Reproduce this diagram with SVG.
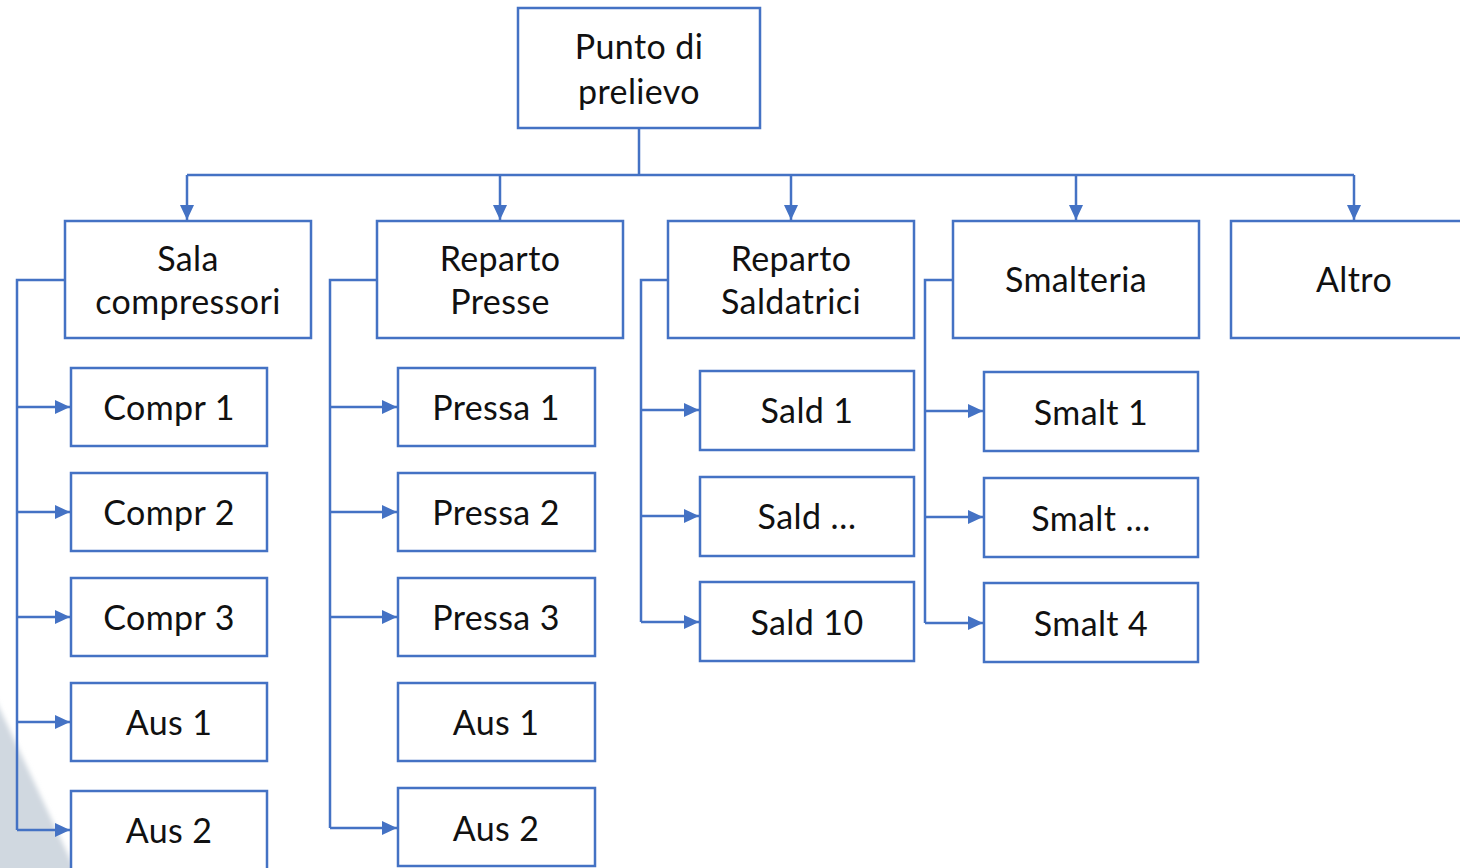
<svg xmlns="http://www.w3.org/2000/svg" width="1460" height="868" viewBox="0 0 1460 868">
  <style>
    .box { fill: #ffffff; stroke: #4472C4; stroke-width: 2.5; }
    .lbl { font-family: Lato, "Liberation Sans", sans-serif; font-size: 34px; letter-spacing: 0.4px; fill: #111111; text-anchor: middle; }
    .wire { fill: none; stroke: #4472C4; stroke-width: 2.5; }
    .arr { marker-end: url(#head); }
  </style>
  <defs>
    <marker id="head" markerUnits="userSpaceOnUse" markerWidth="16" markerHeight="16" viewBox="0 0 16 16" refX="15" refY="8" orient="auto">
      <path d="M0,1 L15,8 L0,15 Z" fill="#4472C4"/>
    </marker>
    <filter id="soft" x="-20%" y="-20%" width="140%" height="140%">
      <feGaussianBlur stdDeviation="2.5"/>
    </filter>
  </defs>

  <rect width="1460" height="868" fill="#ffffff"/>
  <!-- grey corner wedge -->
  <polygon points="-10,688 80,880 -10,880" fill="#d0d8e0" filter="url(#soft)"/>

  <!-- connectors -->
  <g id="connectors">
    <path class="wire" d="M639,128 V175 M187,175 H1354"/>
    <path class="wire arr" d="M187,175 V220"/>
    <path class="wire arr" d="M500,175 V220"/>
    <path class="wire arr" d="M791,175 V220"/>
    <path class="wire arr" d="M1076,175 V220"/>
    <path class="wire arr" d="M1354,175 V220"/>

    <!-- Sala compressori branch -->
    <path class="wire" d="M65,280 H17 V830"/>
    <path class="wire arr" d="M17,407 H70"/>
    <path class="wire arr" d="M17,512 H70"/>
    <path class="wire arr" d="M17,617 H70"/>
    <path class="wire arr" d="M17,722 H70"/>
    <path class="wire arr" d="M17,830 H70"/>

    <!-- Reparto Presse branch -->
    <path class="wire" d="M377,280 H330 V828"/>
    <path class="wire arr" d="M330,407 H397"/>
    <path class="wire arr" d="M330,512 H397"/>
    <path class="wire arr" d="M330,617 H397"/>
    <path class="wire arr" d="M330,828 H397"/>

    <!-- Reparto Saldatrici branch -->
    <path class="wire" d="M668,280 H641 V622"/>
    <path class="wire arr" d="M641,410 H699"/>
    <path class="wire arr" d="M641,516 H699"/>
    <path class="wire arr" d="M641,622 H699"/>

    <!-- Smalteria branch -->
    <path class="wire" d="M953,280 H925 V623"/>
    <path class="wire arr" d="M925,411 H983"/>
    <path class="wire arr" d="M925,517 H983"/>
    <path class="wire arr" d="M925,623 H983"/>
  </g>

  <!-- root -->
  <g id="punto-prelievo">
    <rect class="box" x="518" y="8" width="242" height="120"/>
    <text class="lbl" x="639" y="59">Punto di</text>
    <text class="lbl" x="639" y="104">prelievo</text>
  </g>

  <!-- level 1 -->
  <g id="sala-compressori">
    <rect class="box" x="65" y="221" width="246" height="117"/>
    <text class="lbl" x="188" y="271">Sala</text>
    <text class="lbl" x="188" y="314">compressori</text>
  </g>
  <g id="reparto-presse">
    <rect class="box" x="377" y="221" width="246" height="117"/>
    <text class="lbl" x="500" y="271">Reparto</text>
    <text class="lbl" x="500" y="314">Presse</text>
  </g>
  <g id="reparto-saldatrici">
    <rect class="box" x="668" y="221" width="246" height="117"/>
    <text class="lbl" x="791" y="271">Reparto</text>
    <text class="lbl" x="791" y="314">Saldatrici</text>
  </g>
  <g id="smalteria">
    <rect class="box" x="953" y="221" width="246" height="117"/>
    <text class="lbl" x="1076" y="292">Smalteria</text>
  </g>
  <g id="altro">
    <rect class="box" x="1231" y="221" width="246" height="117"/>
    <text class="lbl" x="1354" y="292">Altro</text>
  </g>

  <!-- Sala compressori children -->
  <g id="compr-1"><rect class="box" x="71" y="368" width="196" height="78"/><text class="lbl" x="169" y="420">Compr 1</text></g>
  <g id="compr-2"><rect class="box" x="71" y="473" width="196" height="78"/><text class="lbl" x="169" y="525">Compr 2</text></g>
  <g id="compr-3"><rect class="box" x="71" y="578" width="196" height="78"/><text class="lbl" x="169" y="630">Compr 3</text></g>
  <g id="sala-aus-1"><rect class="box" x="71" y="683" width="196" height="78"/><text class="lbl" x="169" y="735">Aus 1</text></g>
  <g id="sala-aus-2"><rect class="box" x="71" y="791" width="196" height="90"/><text class="lbl" x="169" y="843">Aus 2</text></g>

  <!-- Reparto Presse children -->
  <g id="pressa-1"><rect class="box" x="398" y="368" width="197" height="78"/><text class="lbl" x="496" y="420">Pressa 1</text></g>
  <g id="pressa-2"><rect class="box" x="398" y="473" width="197" height="78"/><text class="lbl" x="496" y="525">Pressa 2</text></g>
  <g id="pressa-3"><rect class="box" x="398" y="578" width="197" height="78"/><text class="lbl" x="496" y="630">Pressa 3</text></g>
  <g id="presse-aus-1"><rect class="box" x="398" y="683" width="197" height="78"/><text class="lbl" x="496" y="735">Aus 1</text></g>
  <g id="presse-aus-2"><rect class="box" x="398" y="788" width="197" height="78"/><text class="lbl" x="496" y="841">Aus 2</text></g>

  <!-- Reparto Saldatrici children -->
  <g id="sald-1"><rect class="box" x="700" y="371" width="214" height="79"/><text class="lbl" x="807" y="423">Sald 1</text></g>
  <g id="sald-dots"><rect class="box" x="700" y="477" width="214" height="79"/><text class="lbl" x="807" y="529">Sald …</text></g>
  <g id="sald-10"><rect class="box" x="700" y="582" width="214" height="79"/><text class="lbl" x="807" y="635">Sald 10</text></g>

  <!-- Smalteria children -->
  <g id="smalt-1"><rect class="box" x="984" y="372" width="214" height="79"/><text class="lbl" x="1091" y="425">Smalt 1</text></g>
  <g id="smalt-dots"><rect class="box" x="984" y="478" width="214" height="79"/><text class="lbl" x="1091" y="531">Smalt ...</text></g>
  <g id="smalt-4"><rect class="box" x="984" y="583" width="214" height="79"/><text class="lbl" x="1091" y="636">Smalt 4</text></g>
</svg>
